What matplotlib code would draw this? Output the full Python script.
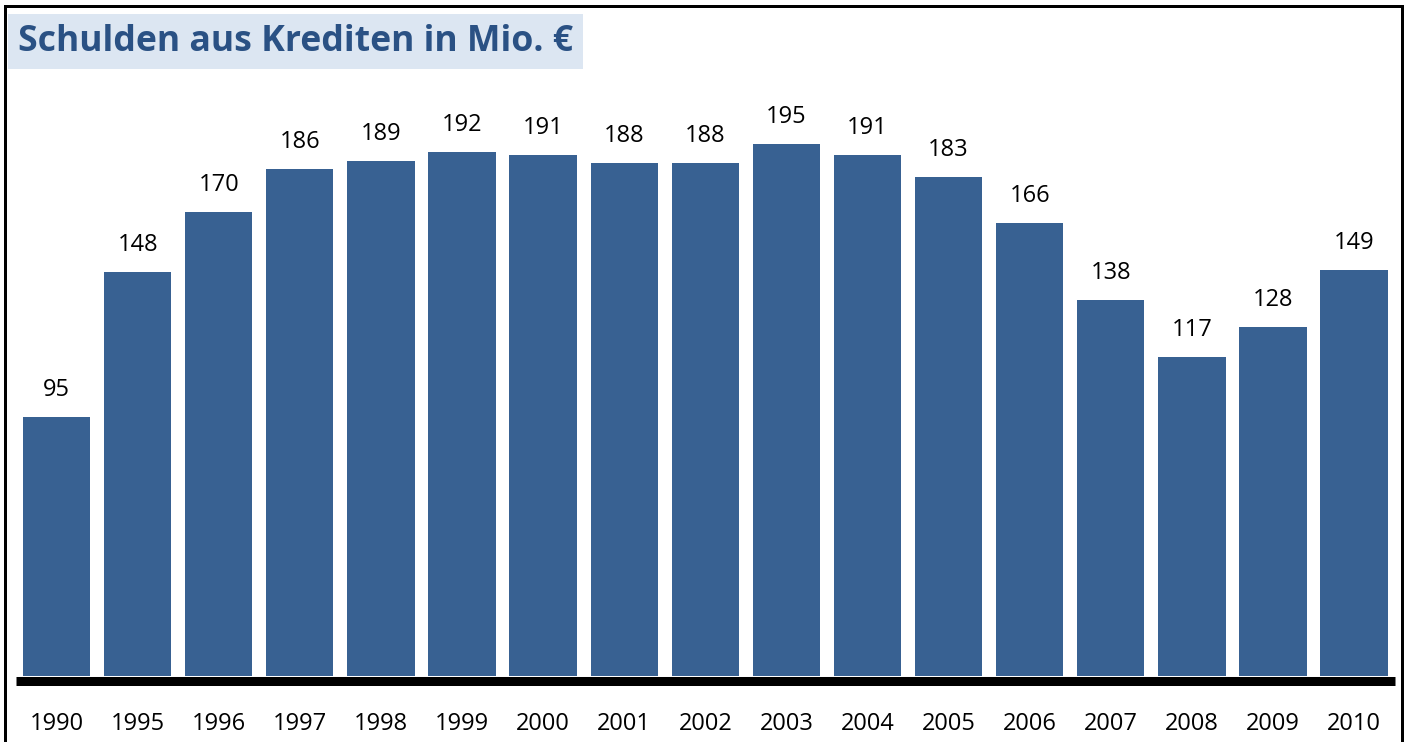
import matplotlib
matplotlib.use("Agg")
import matplotlib.pyplot as plt
from matplotlib.patches import Rectangle

years = ["1990", "1995", "1996", "1997", "1998", "1999", "2000", "2001", "2002",
         "2003", "2004", "2005", "2006", "2007", "2008", "2009", "2010"]
values = [95, 148, 170, 186, 189, 192, 191, 188, 188, 195, 191, 183, 166, 138, 117, 128, 149]
title = "Schulden aus Krediten in Mio. €"

FONT = "Open Sans"
plt.rcParams["font.family"] = [FONT, "DejaVu Sans"]

W, H = 1409, 742
DPI = 100
fig = plt.figure(figsize=(W / DPI, H / DPI), dpi=DPI)
fig.patch.set_facecolor("white")

BAR = "#386192"
FS = 17

def fx(px):
    return px / W

def fy(py):
    return 1 - py / H

# axes: x from 16 to 1394.6 px, bottom at 676 px, top at 80 px
left, right, top, bottom = 16, 1394.6, 80, 676
ax = fig.add_axes([fx(left), fy(bottom), fx(right - left), (bottom - top) / H])
x = list(range(len(years)))
ax.bar(x, values, width=0.83, color=BAR, zorder=2)
ax.set_xlim(-0.5, len(years) - 0.5)
ax.set_ylim(0, (bottom - top) / 2.727)
ax.set_xticks(x)
ax.set_xticklabels(years)
ax.tick_params(axis="x", length=0, pad=31 * 0.72, labelsize=FS, labelcolor="black")
ax.set_yticks([])
for s in ["top", "right", "left"]:
    ax.spines[s].set_visible(False)
ax.spines["bottom"].set_linewidth(9 * 0.72)
ax.spines["bottom"].set_position(("outward", 4.5 * 0.72))
ax.spines["bottom"].set_capstyle("butt")
ax.patch.set_alpha(0)

for xi, v in zip(x, values):
    ax.annotate(str(v), (xi, v), xytext=(0, 27 * 0.72), textcoords="offset points",
                ha="center", va="center", fontsize=FS, color="black")

# outer frame
fig.add_artist(Rectangle((fx(4.5), fy(760)), fx(1401.5 - 4.5), (760 - 6) / H,
                         transform=fig.transFigure, fill=False, edgecolor="black",
                         linewidth=3 * 0.72, zorder=5))

# title box
fig.add_artist(Rectangle((fx(8), fy(69)), fx(583 - 8), (69 - 14) / H,
                         transform=fig.transFigure, facecolor="#dce6f2",
                         edgecolor="none", zorder=1))
t = fig.text(fx(18), fy(42), title, fontsize=24, fontweight="bold",
             color="#2a5184", ha="left", va="center", zorder=6)
fig.canvas.draw()
ext = t.get_window_extent()
t.set_fontsize(24 * 557 / ext.width)

fig.savefig("out.png", dpi=DPI)
